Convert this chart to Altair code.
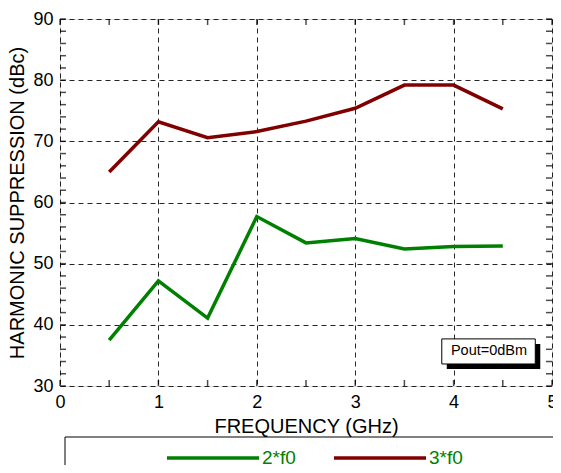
import altair as alt
import pandas as pd

freq = [0.5, 1.0, 1.5, 2.0, 2.5, 3.0, 3.5, 4.0, 4.5]
h2 = [37.5, 47.2, 41.1, 57.7, 53.4, 54.1, 52.4, 52.8, 52.9]
h3 = [65.0, 73.2, 70.6, 71.6, 73.3, 75.4, 79.2, 79.2, 75.3]
series_names = ["2*f0", "3*f0"]
series_colors = ["#008000", "#800000"]

x_grid = [0, 1, 2, 3, 4, 5]
y_grid = [30, 40, 50, 60, 70, 80, 90]
x_minor = [0, 0.5, 1, 1.5, 2, 2.5, 3, 3.5, 4, 4.5, 5]
y_minor = list(range(30, 91, 2))

note_text = ["Pout=0dBm"]
note_x = [4.36]
note_y = [35.65]
note_box_x = [3.88]
note_box_x2 = [4.83]
note_box_y = [33.6]
note_box_y2 = [37.7]

W, H = 492, 367
FONT = "Liberation Sans"

df = pd.DataFrame({
    "freq": freq * 2,
    "val": h2 + h3,
    "series": [series_names[0]] * len(freq) + [series_names[1]] * len(freq),
})

xs = alt.Scale(domain=[0, 5], nice=False, zero=False)
ys = alt.Scale(domain=[30, 90], nice=False, zero=False)

# legend frame (decoration)
legend_frame = alt.Chart(pd.DataFrame({"a": [0]})).mark_rect(
    filled=False, stroke="black", strokeWidth=1, clip=False
).encode(
    x=alt.value(5), x2=alt.value(520), y=alt.value(418), y2=alt.value(480)
)

lines = alt.Chart(df).mark_line(strokeWidth=3.5, clip=False).encode(
    x=alt.X("freq:Q", scale=xs,
            axis=alt.Axis(values=x_grid, format="d", title="FREQUENCY (GHz)", grid=True,
                          gridDash=[5, 4], gridColor="#000000", gridOpacity=0.85,
                          gridWidth=1, ticks=False, domain=False, labelPadding=7,
                          labelFontSize=18, labelFont=FONT, labelColor="black",
                          titleFontSize=20, titleFont=FONT, titleFontWeight="normal",
                          titleColor="black", titlePadding=5, labelFlush=False)),
    y=alt.Y("val:Q", scale=ys,
            axis=alt.Axis(values=y_grid, title="HARMONIC SUPPRESSION (dBc)", grid=True,
                          gridDash=[5, 4], gridColor="#000000", gridOpacity=0.85,
                          gridWidth=1, ticks=False, domain=False, labelPadding=7,
                          labelFontSize=18, labelFont=FONT, labelColor="black",
                          titleFontSize=20, titleFont=FONT, titleFontWeight="normal",
                          titleColor="black", titlePadding=5, labelFlush=False)),
    color=alt.Color("series:N",
                    scale=alt.Scale(domain=series_names, range=series_colors),
                    legend=alt.Legend(title=None, orient="none", direction="horizontal",
                                      legendX=105, legendY=391, zindex=5,
                                      symbolType="stroke", symbolSize=8464,
                                      symbolStrokeWidth=3.5, labelColor="#008000",
                                      labelFontSize=19, labelFont=FONT, labelOffset=1,
                                      columnPadding=31, padding=0)),
)

xt = pd.DataFrame({"t": x_minor})
yt = pd.DataFrame({"t": y_minor})

tick_bottom = alt.Chart(xt).mark_tick(orient="vertical", size=6, thickness=1.5,
                                      color="black", yOffset=-3).encode(
    x=alt.X("t:Q", scale=xs), y=alt.datum(30, scale=ys))
tick_top = alt.Chart(xt).mark_tick(orient="vertical", size=6, thickness=1.5,
                                   color="black", yOffset=3).encode(
    x=alt.X("t:Q", scale=xs), y=alt.datum(90, scale=ys))
tick_left = alt.Chart(yt).mark_tick(orient="horizontal", size=6, thickness=1.5,
                                    color="black", xOffset=3).encode(
    y=alt.Y("t:Q", scale=ys), x=alt.datum(0, scale=xs))
tick_right = alt.Chart(yt).mark_tick(orient="horizontal", size=6, thickness=1.5,
                                     color="black", xOffset=-3).encode(
    y=alt.Y("t:Q", scale=ys), x=alt.datum(5, scale=xs))

box_df = pd.DataFrame({"x": note_box_x, "x2": note_box_x2, "y": note_box_y, "y2": note_box_y2})
shadow = alt.Chart(box_df).mark_rect(fill="black", xOffset=5, x2Offset=5,
                                     yOffset=5, y2Offset=5).encode(
    x=alt.X("x:Q", scale=xs), x2="x2", y=alt.Y("y:Q", scale=ys), y2="y2")
box = alt.Chart(box_df).mark_rect(fill="white", stroke="black", strokeWidth=1).encode(
    x=alt.X("x:Q", scale=xs), x2="x2", y=alt.Y("y:Q", scale=ys), y2="y2")
note = alt.Chart(pd.DataFrame({"x": note_x, "y": note_y, "t": note_text})).mark_text(
    fontSize=14.5, font=FONT, color="black", align="center", baseline="middle").encode(
    x=alt.X("x:Q", scale=xs), y=alt.Y("y:Q", scale=ys), text="t:N")

chart = alt.layer(
    legend_frame, lines, tick_bottom, tick_top, tick_left, tick_right, shadow, box, note
).properties(
    width=W, height=H,
    autosize=alt.AutoSizeParams(type="none"),
    padding={"left": 52, "top": 11, "right": 1, "bottom": 79},
).configure_view(
    stroke="black", strokeWidth=3
).configure(background="white")

chart.save("out.html", embed_options={"renderer": "svg", "actions": False})
